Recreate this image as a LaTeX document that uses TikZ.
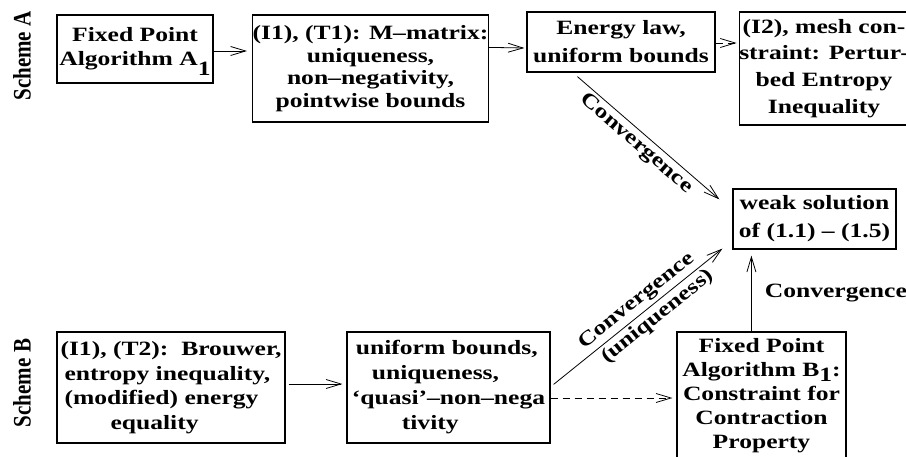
\documentclass[tikz,border=0pt]{standalone}
\usepackage{fontspec}
\setmainfont{Liberation Serif}[FakeStretch=1.26]
\newfontfamily\plainserif{Liberation Serif}
\usetikzlibrary{arrows.meta,calc}
\begin{document}
\begin{tikzpicture}[x=1pt,y=-1pt,
  box/.style={draw, line width=1.2pt, inner sep=0pt, align=center,
    font=\fontsize{20.3}{24}\selectfont\bfseries},
  arr/.style={line width=0.8pt, -{Straight Barb[length=15pt,width=9pt,line width=0.8pt]}},
  dsh/.style={arr, dash pattern=on 7pt off 5pt},
  lbl/.style={font=\fontsize{20.3}{24}\selectfont\bfseries, inner sep=3pt},
  scheme/.style={rotate=90, inner sep=0pt, font=\plainserif\fontsize{21}{24}\selectfont\bfseries}
]
\useasboundingbox (0,0) rectangle (906,457);
\clip (0,0) rectangle (906,457);

% scheme labels
\node[scheme] (sa) at (22,56) {\scalebox{1}[1.2]{Scheme A}};
\node[scheme] (sb) at (22,383) {\scalebox{1}[1.2]{Scheme B}};

% Scheme A boxes
\node[box, minimum width=156, minimum height=68] (a1) at (135,49)
  {Fixed Point\\Algorithm A\raisebox{-0.5em}[0pt][0pt]{1}};
\node[box, minimum width=235, minimum height=107,
  font=\fontsize{20.3}{22.7}\selectfont\bfseries] (t1) at (370.5,68.5)
  {(I1), (T1): M–matrix:\\uniqueness,\\non–negativity,\\pointwise bounds};
\node[box, minimum width=188, minimum height=60,
  font=\fontsize{20.3}{28}\selectfont\bfseries] (en) at (621,42)
  {Energy law,\\uniform bounds};
\node[box, minimum width=162, minimum height=113,
  font=\fontsize{20.3}{26.7}\selectfont\bfseries] (i2) at (824,68.5)
  {(I2), mesh con-\\straint: Pertur-\\bed Entropy\\Inequality};

% target
\node[box, minimum width=163, minimum height=60,
  font=\fontsize{20.3}{28}\selectfont\bfseries] (ws) at (814.5,219)
  {weak solution\\of (1.1) – (1.5)};

% Scheme B boxes
\node[box, minimum width=228, minimum height=111, align=left,
  font=\fontsize{20.3}{24.7}\selectfont\bfseries] (b1) at (171,387.5)
  {(I1), (T2):\ \ Brouwer,\\\hspace*{4pt}entropy inequality,\\\hspace*{4pt}(modified) energy\\\hspace*{50pt}equality};
\node[box, minimum width=203, minimum height=111, align=left,
  font=\fontsize{20.3}{25}\selectfont\bfseries] (b2) at (448.5,387.5)
  {\hspace*{4pt}uniform bounds,\\\hspace*{20pt}uniqueness,\\‘quasi’–non–nega\\\hspace*{50pt}tivity};
\node[box, minimum width=169, minimum height=127] (b3) at (761.5,395.5)
  {Fixed Point\\Algorithm B\raisebox{-0.25em}[0pt][0pt]{1}:\\Constraint for\\Contraction\\Property};

% connectors scheme A
\draw[arr] ($(a1.east)+(0,2)$) -- ($(t1.west)+(-5,-17.5)$);
\draw[arr] ($(t1.north east)+(0,33)$) -- ($(en.west)+(-2,6)$);
\draw[dsh] ($(en.east)+(0,1)$) -- ($(i2.west)+(-2,-25.5)$);
\draw[arr] ($(en.south west)+(51,4)$) -- ($(ws.north west)+(-13,11)$)
  node[lbl, below, sloped, pos=0.47] {Convergence};

% connectors scheme B
\draw[arr] ($(b1.east)+(3,-3.5)$) -- ($(b2.west)+(-4,-3.5)$);
\draw[dsh] ($(b2.east)+(0,10.5)$) -- ($(b3.west)+(-4,2.5)$);
\draw[arr] ($(b2.north east)+(3,53)$) -- ($(ws.south west)+(-10,-1)$)
  node[lbl, above, sloped, pos=0.54] {Convergence}
  node[lbl, below, sloped, pos=0.57] {(uniqueness)};
\draw[arr] ($(b3.north west)+(75,0)$) -- ($(ws.south west)+(19,6)$)
  node[lbl, right=10pt, midway] {Convergence};
\end{tikzpicture}
\end{document}
